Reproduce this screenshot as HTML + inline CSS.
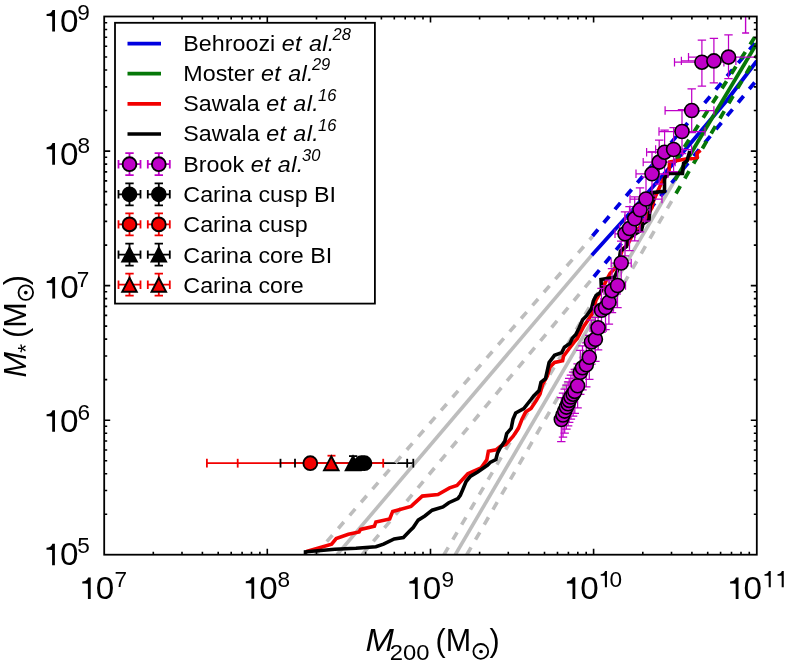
<!DOCTYPE html>
<html><head><meta charset="utf-8"><style>
html,body{margin:0;padding:0;background:#fff;}
svg{display:block;will-change:transform;filter:blur(0.35px);}
text{font-family:"Liberation Sans",sans-serif;fill:#000;}
</style></head><body>
<svg width="786" height="666" viewBox="0 0 786 666">
<defs><clipPath id="plotclip"><rect x="104.2" y="16.5" width="652.6" height="538.2"/></clipPath></defs>
<rect width="786" height="666" fill="#fff"/>
<path d="M280.5,463.2 H413.3" stroke="#000" stroke-width="1.8"/>
<path d="M206.9,463.2 H383.2" stroke="#f20000" stroke-width="1.8"/>
<g clip-path="url(#plotclip)">
<path d="M315.4,554.7 L592.5,236.5" fill="none" stroke="#bdbdbd" stroke-width="3.6" stroke-dasharray="8.5 8.9" stroke-linejoin="miter" />
<path d="M337.1,554.7 L591.8,255.2" fill="none" stroke="#bdbdbd" stroke-width="3.6" stroke-linejoin="miter" />
<path d="M362.2,554.7 L593.9,276.7" fill="none" stroke="#bdbdbd" stroke-width="3.6" stroke-dasharray="8.5 8.9" stroke-linejoin="miter" />
<path d="M444.0,554.7 L675.0,161.6" fill="none" stroke="#bdbdbd" stroke-width="3.6" stroke-dasharray="8.5 8.9" stroke-linejoin="miter" />
<path d="M455.3,554.7 L675.0,180.0" fill="none" stroke="#bdbdbd" stroke-width="3.6" stroke-linejoin="miter" />
<path d="M466.8,554.7 L676.0,193.5" fill="none" stroke="#bdbdbd" stroke-width="3.6" stroke-dasharray="8.5 8.9" stroke-linejoin="miter" />
<path d="M592.5,236.0 L756.8,41.0" fill="none" stroke="#0000e0" stroke-width="3.8" stroke-dasharray="8.5 8.9" stroke-linejoin="miter" />
<path d="M591.8,255.2 L629.5,213.5 L680.0,155.7 L727.2,100.0 L756.8,61.0" fill="none" stroke="#0000e0" stroke-width="3.8" stroke-linejoin="miter" />
<path d="M593.9,276.7 L756.8,80.0" fill="none" stroke="#0000e0" stroke-width="3.8" stroke-dasharray="8.5 8.9" stroke-linejoin="miter" />
<path d="M675.0,161.6 L756.8,34.0" fill="none" stroke="#067808" stroke-width="3.8" stroke-dasharray="8.5 8.9" stroke-linejoin="miter" />
<path d="M675.0,180.0 L756.8,43.5" fill="none" stroke="#067808" stroke-width="3.8" stroke-linejoin="miter" />
<path d="M676.0,193.5 L756.8,55.5" fill="none" stroke="#067808" stroke-width="3.8" stroke-dasharray="8.5 8.9" stroke-linejoin="miter" />
<path d="M306.5,551.5 L331.6,544.2 L336.2,538.5 L348.4,534.3 L359.1,532.0 L360.6,529.4 L374.4,526.3 L375.9,522.0 L389.7,519.0 L392.7,511.4 L411.0,506.5 L413.2,504.4 L422.3,496.1 L438.0,494.5 L449.6,487.9 L457.0,485.4 L467.8,473.8 L481.0,468.0 L486.8,459.8 L488.4,451.2 L495.9,449.8 L500.4,446.3 L505.8,444.5 L513.0,436.4 L518.4,428.3 L522.0,419.3 L525.6,412.1 L531.0,408.5 L536.4,400.4 L540.0,394.1 L542.7,384.1 L547.3,376.0 L550.0,367.0 L554.5,362.5 L562.6,360.7 L563.5,356.2 L568.9,349.0 L574.3,341.8 L577.2,338.6 L584.0,326.0 L592.0,314.3 L596.0,300.0 L602.0,290.0 L606.0,281.0 L610.0,273.5 L618.0,265.0 L622.0,250.0 L628.0,244.0 L632.0,236.0 L640.0,227.0 L646.0,218.0 L652.0,207.5 L653.8,199.9 L662.8,180.1 L669.0,172.3 L669.6,162.1 L687.0,158.8 L691.5,158.8 L697.1,157.6 L697.1,153.1 L700.5,150.3" fill="none" stroke="#f20000" stroke-width="3.6" stroke-linejoin="miter" />
<path d="M305.5,554.2 L305.5,551.8 L318.0,550.8 L334.7,549.2 L356.0,548.3 L375.9,546.8 L383.5,544.2 L394.2,538.9 L403.4,537.6 L409.9,530.8 L413.2,527.5 L418.2,520.1 L424.8,516.0 L432.2,510.2 L443.0,506.9 L448.8,502.7 L457.9,498.6 L460.3,495.3 L462.8,489.5 L466.1,481.5 L470.2,476.5 L477.7,472.0 L487.6,465.0 L490.1,462.5 L495.9,459.5 L497.5,453.1 L500.0,448.2 L504.9,440.9 L506.7,433.7 L511.2,428.3 L513.0,419.3 L515.7,413.0 L523.8,408.5 L531.0,399.5 L533.7,395.9 L539.1,390.5 L541.0,382.3 L545.5,378.7 L547.3,370.6 L549.1,362.5 L554.5,355.3 L561.7,352.6 L564.4,347.2 L569.8,343.6 L572.5,338.0 L575.8,334.6 L579.2,327.8 L582.6,319.7 L586.6,315.7 L591.4,308.9 L593.4,300.8 L596.1,295.4 L600.1,292.7 L601.5,290.0 L601.0,279.5 L614.5,277.2 L617.5,270.5 L620.5,251.0 L626.5,246.5 L627.2,239.0 L641.5,230.0 L643.0,224.0 L649.0,219.5 L650.5,204.5 L653.5,200.0 L652.0,192.7 L664.5,191.4 L664.5,177.9 L669.0,173.4 L682.5,173.4 L683.6,163.3 L687.0,161.0 L689.8,150.9" fill="none" stroke="#000" stroke-width="3.6" stroke-linejoin="miter" />
</g>
<g clip-path="url(#plotclip)">
<path d="M561.3,397.5 V441.5 M557.1,397.5 h8.4 M557.1,441.5 h8.4" stroke="#bf00c8" stroke-width="1.25" fill="none"/>
<path d="M563.0,393.0 V437.0 M558.8,393.0 h8.4 M558.8,437.0 h8.4" stroke="#bf00c8" stroke-width="1.25" fill="none"/>
<path d="M564.7,389.1 V433.1 M560.5,389.1 h8.4 M560.5,433.1 h8.4" stroke="#bf00c8" stroke-width="1.25" fill="none"/>
<path d="M566.4,385.1 V429.1 M562.2,385.1 h8.4 M562.2,429.1 h8.4" stroke="#bf00c8" stroke-width="1.25" fill="none"/>
<path d="M568.1,381.8 V425.8 M563.9,381.8 h8.4 M563.9,425.8 h8.4" stroke="#bf00c8" stroke-width="1.25" fill="none"/>
<path d="M569.2,378.4 V422.4 M565.0,378.4 h8.4 M565.0,422.4 h8.4" stroke="#bf00c8" stroke-width="1.25" fill="none"/>
<path d="M570.9,375.0 V419.0 M566.7,375.0 h8.4 M566.7,419.0 h8.4" stroke="#bf00c8" stroke-width="1.25" fill="none"/>
<path d="M573.1,372.2 V416.2 M568.9,372.2 h8.4 M568.9,416.2 h8.4" stroke="#bf00c8" stroke-width="1.25" fill="none"/>
<path d="M574.8,369.4 V413.4 M570.6,369.4 h8.4 M570.6,413.4 h8.4" stroke="#bf00c8" stroke-width="1.25" fill="none"/>
<path d="M577.6,363.8 V407.8 M573.4,363.8 h8.4 M573.4,407.8 h8.4" stroke="#bf00c8" stroke-width="1.25" fill="none"/>
<path d="M580.3,350.3 V394.3 M576.1,350.3 h8.4 M576.1,394.3 h8.4" stroke="#bf00c8" stroke-width="1.25" fill="none"/>
<path d="M582.5,345.8 V389.8 M578.3,345.8 h8.4 M578.3,389.8 h8.4" stroke="#bf00c8" stroke-width="1.25" fill="none"/>
<path d="M586.3,342.8 V386.8 M582.1,342.8 h8.4 M582.1,386.8 h8.4" stroke="#bf00c8" stroke-width="1.25" fill="none"/>
<path d="M589.3,335.3 V379.3 M585.1,335.3 h8.4 M585.1,379.3 h8.4" stroke="#bf00c8" stroke-width="1.25" fill="none"/>
<path d="M591.4,320.0 V364.0 M587.2,320.0 h8.4 M587.2,364.0 h8.4" stroke="#bf00c8" stroke-width="1.25" fill="none"/>
<path d="M595.4,317.3 V361.3 M591.2,317.3 h8.4 M591.2,361.3 h8.4" stroke="#bf00c8" stroke-width="1.25" fill="none"/>
<path d="M598.1,305.8 V349.8 M590.1,327.8 H606.1 M590.1,323.6 v8.4 M606.1,323.6 v8.4 M593.9,305.8 h8.4 M593.9,349.8 h8.4" stroke="#bf00c8" stroke-width="1.25" fill="none"/>
<path d="M601.5,288.3 V332.3 M593.5,310.3 H609.5 M593.5,306.1 v8.4 M609.5,306.1 v8.4 M597.3,288.3 h8.4 M597.3,332.3 h8.4" stroke="#bf00c8" stroke-width="1.25" fill="none"/>
<path d="M605.5,285.6 V329.6 M597.5,307.6 H613.5 M597.5,303.4 v8.4 M613.5,303.4 v8.4 M601.3,285.6 h8.4 M601.3,329.6 h8.4" stroke="#bf00c8" stroke-width="1.25" fill="none"/>
<path d="M608.9,280.2 V324.2 M600.9,302.2 H616.9 M600.9,298.0 v8.4 M616.9,298.0 v8.4 M604.7,280.2 h8.4 M604.7,324.2 h8.4" stroke="#bf00c8" stroke-width="1.25" fill="none"/>
<path d="M612.0,268.7 V312.7 M604.0,290.7 H620.0 M604.0,286.5 v8.4 M620.0,286.5 v8.4 M607.8,268.7 h8.4 M607.8,312.7 h8.4" stroke="#bf00c8" stroke-width="1.25" fill="none"/>
<path d="M617.5,263.5 V307.5 M609.5,285.5 H625.5 M609.5,281.3 v8.4 M625.5,281.3 v8.4 M613.3,263.5 h8.4 M613.3,307.5 h8.4" stroke="#bf00c8" stroke-width="1.25" fill="none"/>
<path d="M621.2,241.0 V285.0 M611.2,263.0 H631.2 M611.2,258.8 v8.4 M631.2,258.8 v8.4 M617.0,241.0 h8.4 M617.0,285.0 h8.4" stroke="#bf00c8" stroke-width="1.25" fill="none"/>
<path d="M625.0,211.8 V255.8 M615.0,233.8 H635.0 M615.0,229.6 v8.4 M635.0,229.6 v8.4 M620.8,211.8 h8.4 M620.8,255.8 h8.4" stroke="#bf00c8" stroke-width="1.25" fill="none"/>
<path d="M629.5,206.5 V250.5 M619.5,228.5 H639.5 M619.5,224.3 v8.4 M639.5,224.3 v8.4 M625.3,206.5 h8.4 M625.3,250.5 h8.4" stroke="#bf00c8" stroke-width="1.25" fill="none"/>
<path d="M634.7,196.8 V240.8 M624.7,218.8 H644.7 M624.7,214.6 v8.4 M644.7,214.6 v8.4 M630.5,196.8 h8.4 M630.5,240.8 h8.4" stroke="#bf00c8" stroke-width="1.25" fill="none"/>
<path d="M640.0,187.8 V231.8 M630.0,209.8 H650.0 M630.0,205.6 v8.4 M650.0,205.6 v8.4 M635.8,187.8 h8.4 M635.8,231.8 h8.4" stroke="#bf00c8" stroke-width="1.25" fill="none"/>
<path d="M646.0,177.0 V221.0 M630.0,199.0 H662.0 M630.0,194.8 v8.4 M662.0,194.8 v8.4 M641.8,177.0 h8.4 M641.8,221.0 h8.4" stroke="#bf00c8" stroke-width="1.25" fill="none"/>
<path d="M652.0,151.8 V195.8 M636.0,173.8 H668.0 M636.0,169.6 v8.4 M668.0,169.6 v8.4 M647.8,151.8 h8.4 M647.8,195.8 h8.4" stroke="#bf00c8" stroke-width="1.25" fill="none"/>
<path d="M659.2,140.1 V184.1 M643.2,162.1 H675.2 M643.2,157.9 v8.4 M675.2,157.9 v8.4 M655.0,140.1 h8.4 M655.0,184.1 h8.4" stroke="#bf00c8" stroke-width="1.25" fill="none"/>
<path d="M664.6,130.2 V174.2 M646.6,152.2 H682.6 M646.6,148.0 v8.4 M682.6,148.0 v8.4 M660.4,130.2 h8.4 M660.4,174.2 h8.4" stroke="#bf00c8" stroke-width="1.25" fill="none"/>
<path d="M673.6,127.5 V171.5 M655.6,149.5 H691.6 M655.6,145.3 v8.4 M691.6,145.3 v8.4 M669.4,127.5 h8.4 M669.4,171.5 h8.4" stroke="#bf00c8" stroke-width="1.25" fill="none"/>
<path d="M682.0,109.5 V153.5 M659.0,131.5 H705.0 M659.0,127.3 v8.4 M705.0,127.3 v8.4 M677.8,109.5 h8.4 M677.8,153.5 h8.4" stroke="#bf00c8" stroke-width="1.25" fill="none"/>
<path d="M691.7,88.8 V132.5 M665.1,110.5 H713.9 M665.1,106.3 v8.4 M713.9,106.3 v8.4 M687.5,88.8 h8.4 M687.5,132.5 h8.4" stroke="#bf00c8" stroke-width="1.25" fill="none"/>
<path d="M701.9,40.0 V86.2 M674.5,62.2 H723.9 M674.5,58.0 v8.4 M723.9,58.0 v8.4 M697.7,40.0 h8.4 M697.7,86.2 h8.4" stroke="#bf00c8" stroke-width="1.25" fill="none"/>
<path d="M713.9,38.3 V82.8 M681.4,60.9 H735.9 M681.4,56.7 v8.4 M735.9,56.7 v8.4 M709.7,38.3 h8.4 M709.7,82.8 h8.4" stroke="#bf00c8" stroke-width="1.25" fill="none"/>
<path d="M728.5,34.8 V78.5 M688.5,57.1 H768.5 M688.5,52.9 v8.4 M768.5,52.9 v8.4 M724.3,34.8 h8.4 M724.3,78.5 h8.4" stroke="#bf00c8" stroke-width="1.25" fill="none"/>
<path d="M745.6,-10.0 V33.0 M742.1,-10.0 h7.0 M742.1,33.0 h7.0" stroke="#bf00c8" stroke-width="1.4" fill="none"/>
<circle cx="561.3" cy="419.5" r="7.0" fill="#bf00c8" stroke="#000" stroke-width="1.6"/>
<circle cx="563.0" cy="415.0" r="7.0" fill="#bf00c8" stroke="#000" stroke-width="1.6"/>
<circle cx="564.7" cy="411.1" r="7.0" fill="#bf00c8" stroke="#000" stroke-width="1.6"/>
<circle cx="566.4" cy="407.1" r="7.0" fill="#bf00c8" stroke="#000" stroke-width="1.6"/>
<circle cx="568.1" cy="403.8" r="7.0" fill="#bf00c8" stroke="#000" stroke-width="1.6"/>
<circle cx="569.2" cy="400.4" r="7.0" fill="#bf00c8" stroke="#000" stroke-width="1.6"/>
<circle cx="570.9" cy="397.0" r="7.0" fill="#bf00c8" stroke="#000" stroke-width="1.6"/>
<circle cx="573.1" cy="394.2" r="7.0" fill="#bf00c8" stroke="#000" stroke-width="1.6"/>
<circle cx="574.8" cy="391.4" r="7.0" fill="#bf00c8" stroke="#000" stroke-width="1.6"/>
<circle cx="577.6" cy="385.8" r="7.0" fill="#bf00c8" stroke="#000" stroke-width="1.6"/>
<circle cx="580.3" cy="372.3" r="7.0" fill="#bf00c8" stroke="#000" stroke-width="1.6"/>
<circle cx="582.5" cy="367.8" r="7.0" fill="#bf00c8" stroke="#000" stroke-width="1.6"/>
<circle cx="586.3" cy="364.8" r="7.0" fill="#bf00c8" stroke="#000" stroke-width="1.6"/>
<circle cx="589.3" cy="357.3" r="7.0" fill="#bf00c8" stroke="#000" stroke-width="1.6"/>
<circle cx="591.4" cy="342.0" r="7.0" fill="#bf00c8" stroke="#000" stroke-width="1.6"/>
<circle cx="595.4" cy="339.3" r="7.0" fill="#bf00c8" stroke="#000" stroke-width="1.6"/>
<circle cx="598.1" cy="327.8" r="7.0" fill="#bf00c8" stroke="#000" stroke-width="1.6"/>
<circle cx="601.5" cy="310.3" r="7.0" fill="#bf00c8" stroke="#000" stroke-width="1.6"/>
<circle cx="605.5" cy="307.6" r="7.0" fill="#bf00c8" stroke="#000" stroke-width="1.6"/>
<circle cx="608.9" cy="302.2" r="7.0" fill="#bf00c8" stroke="#000" stroke-width="1.6"/>
<circle cx="612.0" cy="290.7" r="7.0" fill="#bf00c8" stroke="#000" stroke-width="1.6"/>
<circle cx="617.5" cy="285.5" r="7.0" fill="#bf00c8" stroke="#000" stroke-width="1.6"/>
<circle cx="621.2" cy="263.0" r="7.0" fill="#bf00c8" stroke="#000" stroke-width="1.6"/>
<circle cx="625.0" cy="233.8" r="7.0" fill="#bf00c8" stroke="#000" stroke-width="1.6"/>
<circle cx="629.5" cy="228.5" r="7.0" fill="#bf00c8" stroke="#000" stroke-width="1.6"/>
<circle cx="634.7" cy="218.8" r="7.0" fill="#bf00c8" stroke="#000" stroke-width="1.6"/>
<circle cx="640.0" cy="209.8" r="7.0" fill="#bf00c8" stroke="#000" stroke-width="1.6"/>
<circle cx="646.0" cy="199.0" r="7.0" fill="#bf00c8" stroke="#000" stroke-width="1.6"/>
<circle cx="652.0" cy="173.8" r="7.0" fill="#bf00c8" stroke="#000" stroke-width="1.6"/>
<circle cx="659.2" cy="162.1" r="7.0" fill="#bf00c8" stroke="#000" stroke-width="1.6"/>
<circle cx="664.6" cy="152.2" r="7.0" fill="#bf00c8" stroke="#000" stroke-width="1.6"/>
<circle cx="673.6" cy="149.5" r="7.0" fill="#bf00c8" stroke="#000" stroke-width="1.6"/>
<circle cx="682.0" cy="131.5" r="7.0" fill="#bf00c8" stroke="#000" stroke-width="1.6"/>
<circle cx="691.7" cy="110.5" r="7.0" fill="#bf00c8" stroke="#000" stroke-width="1.6"/>
<circle cx="701.9" cy="62.2" r="7.0" fill="#bf00c8" stroke="#000" stroke-width="1.6"/>
<circle cx="713.9" cy="60.9" r="7.0" fill="#bf00c8" stroke="#000" stroke-width="1.6"/>
<circle cx="728.5" cy="57.1" r="7.0" fill="#bf00c8" stroke="#000" stroke-width="1.6"/>
</g>
<path d="M206.9,458.8 v8.8" stroke="#f20000" stroke-width="1.8"/>
<path d="M237.7,458.8 v8.8" stroke="#f20000" stroke-width="1.8"/>
<path d="M383.2,458.8 v8.8" stroke="#f20000" stroke-width="1.8"/>
<path d="M280.5,458.8 v8.8" stroke="#000" stroke-width="1.8"/>
<path d="M295,458.8 v8.8" stroke="#000" stroke-width="1.8"/>
<path d="M407.2,458.8 v8.8" stroke="#000" stroke-width="1.8"/>
<path d="M413.3,458.8 v8.8" stroke="#000" stroke-width="1.8"/>
<path d="M327.5,455.7 h8" stroke="#f20000" stroke-width="1.8"/>
<path d="M349,456.1 h8.3" stroke="#000" stroke-width="1.8"/>
<circle cx="310.3" cy="463.2" r="6.9" fill="#f20000" stroke="#000" stroke-width="1.9"/>
<path d="M331.3,456.2 L338.6,470.2 L324.0,470.2 Z" fill="#f20000" stroke="#000" stroke-width="1.9" stroke-linejoin="miter"/>
<path d="M353.0,456.2 L360.3,470.2 L345.7,470.2 Z" fill="#000" stroke="#000" stroke-width="1.9" stroke-linejoin="miter"/>
<circle cx="361.5" cy="463.2" r="6.9" fill="#000" stroke="#000" stroke-width="1.9"/>
<circle cx="364.5" cy="463.2" r="6.9" fill="#000" stroke="#000" stroke-width="1.9"/>
<rect x="115" y="22.8" width="259.9" height="280.8" fill="#fff" stroke="#000" stroke-width="1.8"/>
<path d="M127.5,43.6 H161" stroke="#0000e0" stroke-width="3.7"/>
<path d="M127.5,73.7 H161" stroke="#067808" stroke-width="3.7"/>
<path d="M127.5,103.9 H161" stroke="#f20000" stroke-width="3.7"/>
<path d="M127.5,134.0 H161" stroke="#000" stroke-width="3.7"/>
<path d="M129.5,153.2 V175.2 M118.5,164.2 H140.5 M118.5,160.0 v8.4 M140.5,160.0 v8.4 M125.3,153.2 h8.4 M125.3,175.2 h8.4" stroke="#bf00c8" stroke-width="1.8" fill="none"/>
<circle cx="129.5" cy="164.2" r="6.9" fill="#bf00c8" stroke="#000" stroke-width="1.9"/>
<path d="M129.5,183.3 V205.3 M118.5,194.3 H140.5 M118.5,190.1 v8.4 M140.5,190.1 v8.4 M125.3,183.3 h8.4 M125.3,205.3 h8.4" stroke="#000" stroke-width="1.8" fill="none"/>
<circle cx="129.5" cy="194.3" r="6.9" fill="#000" stroke="#000" stroke-width="1.9"/>
<path d="M129.5,213.4 V235.4 M118.5,224.4 H140.5 M118.5,220.2 v8.4 M140.5,220.2 v8.4 M125.3,213.4 h8.4 M125.3,235.4 h8.4" stroke="#f20000" stroke-width="1.8" fill="none"/>
<circle cx="129.5" cy="224.4" r="6.9" fill="#f20000" stroke="#000" stroke-width="1.9"/>
<path d="M129.5,243.6 V265.6 M118.5,254.6 H140.5 M118.5,250.4 v8.4 M140.5,250.4 v8.4 M125.3,243.6 h8.4 M125.3,265.6 h8.4" stroke="#000" stroke-width="1.8" fill="none"/>
<path d="M129.5,247.6 L136.8,261.6 L122.2,261.6 Z" fill="#000" stroke="#000" stroke-width="1.9" stroke-linejoin="miter"/>
<path d="M129.5,273.7 V295.7 M118.5,284.7 H140.5 M118.5,280.5 v8.4 M140.5,280.5 v8.4 M125.3,273.7 h8.4 M125.3,295.7 h8.4" stroke="#f20000" stroke-width="1.8" fill="none"/>
<path d="M129.5,277.7 L136.8,291.7 L122.2,291.7 Z" fill="#f20000" stroke="#000" stroke-width="1.9" stroke-linejoin="miter"/>
<path d="M158.8,153.2 V175.2 M147.8,164.2 H169.8 M147.8,160.0 v8.4 M169.8,160.0 v8.4 M154.6,153.2 h8.4 M154.6,175.2 h8.4" stroke="#bf00c8" stroke-width="1.8" fill="none"/>
<circle cx="158.8" cy="164.2" r="6.9" fill="#bf00c8" stroke="#000" stroke-width="1.9"/>
<path d="M158.8,183.3 V205.3 M147.8,194.3 H169.8 M147.8,190.1 v8.4 M169.8,190.1 v8.4 M154.6,183.3 h8.4 M154.6,205.3 h8.4" stroke="#000" stroke-width="1.8" fill="none"/>
<circle cx="158.8" cy="194.3" r="6.9" fill="#000" stroke="#000" stroke-width="1.9"/>
<path d="M158.8,213.4 V235.4 M147.8,224.4 H169.8 M147.8,220.2 v8.4 M169.8,220.2 v8.4 M154.6,213.4 h8.4 M154.6,235.4 h8.4" stroke="#f20000" stroke-width="1.8" fill="none"/>
<circle cx="158.8" cy="224.4" r="6.9" fill="#f20000" stroke="#000" stroke-width="1.9"/>
<path d="M158.8,243.6 V265.6 M147.8,254.6 H169.8 M147.8,250.4 v8.4 M169.8,250.4 v8.4 M154.6,243.6 h8.4 M154.6,265.6 h8.4" stroke="#000" stroke-width="1.8" fill="none"/>
<path d="M158.8,247.6 L166.1,261.6 L151.5,261.6 Z" fill="#000" stroke="#000" stroke-width="1.9" stroke-linejoin="miter"/>
<path d="M158.8,273.7 V295.7 M147.8,284.7 H169.8 M147.8,280.5 v8.4 M169.8,280.5 v8.4 M154.6,273.7 h8.4 M154.6,295.7 h8.4" stroke="#f20000" stroke-width="1.8" fill="none"/>
<path d="M158.8,277.7 L166.1,291.7 L151.5,291.7 Z" fill="#f20000" stroke="#000" stroke-width="1.9" stroke-linejoin="miter"/>
<path d="M153.3,554.7 L153.3,551.7 M153.3,16.5 L153.3,19.5 M182.0,554.7 L182.0,551.7 M182.0,16.5 L182.0,19.5 M202.4,554.7 L202.4,551.7 M202.4,16.5 L202.4,19.5 M218.2,554.7 L218.2,551.7 M218.2,16.5 L218.2,19.5 M231.2,554.7 L231.2,551.7 M231.2,16.5 L231.2,19.5 M242.1,554.7 L242.1,551.7 M242.1,16.5 L242.1,19.5 M251.5,554.7 L251.5,551.7 M251.5,16.5 L251.5,19.5 M259.9,554.7 L259.9,551.7 M259.9,16.5 L259.9,19.5 M267.3,554.7 L267.3,548.7 M267.3,16.5 L267.3,22.5 M316.5,554.7 L316.5,551.7 M316.5,16.5 L316.5,19.5 M345.2,554.7 L345.2,551.7 M345.2,16.5 L345.2,19.5 M365.6,554.7 L365.6,551.7 M365.6,16.5 L365.6,19.5 M381.4,554.7 L381.4,551.7 M381.4,16.5 L381.4,19.5 M394.3,554.7 L394.3,551.7 M394.3,16.5 L394.3,19.5 M405.2,554.7 L405.2,551.7 M405.2,16.5 L405.2,19.5 M414.7,554.7 L414.7,551.7 M414.7,16.5 L414.7,19.5 M423.0,554.7 L423.0,551.7 M423.0,16.5 L423.0,19.5 M430.5,554.7 L430.5,548.7 M430.5,16.5 L430.5,22.5 M479.6,554.7 L479.6,551.7 M479.6,16.5 L479.6,19.5 M508.3,554.7 L508.3,551.7 M508.3,16.5 L508.3,19.5 M528.7,554.7 L528.7,551.7 M528.7,16.5 L528.7,19.5 M544.5,554.7 L544.5,551.7 M544.5,16.5 L544.5,19.5 M557.5,554.7 L557.5,551.7 M557.5,16.5 L557.5,19.5 M568.4,554.7 L568.4,551.7 M568.4,16.5 L568.4,19.5 M577.8,554.7 L577.8,551.7 M577.8,16.5 L577.8,19.5 M586.2,554.7 L586.2,551.7 M586.2,16.5 L586.2,19.5 M593.6,554.7 L593.6,548.7 M593.6,16.5 L593.6,22.5 M642.8,554.7 L642.8,551.7 M642.8,16.5 L642.8,19.5 M671.5,554.7 L671.5,551.7 M671.5,16.5 L671.5,19.5 M691.9,554.7 L691.9,551.7 M691.9,16.5 L691.9,19.5 M707.7,554.7 L707.7,551.7 M707.7,16.5 L707.7,19.5 M720.6,554.7 L720.6,551.7 M720.6,16.5 L720.6,19.5 M731.5,554.7 L731.5,551.7 M731.5,16.5 L731.5,19.5 M741.0,554.7 L741.0,551.7 M741.0,16.5 L741.0,19.5 M749.3,554.7 L749.3,551.7 M749.3,16.5 L749.3,19.5 M104.2,514.2 L107.2,514.2 M756.8,514.2 L753.8,514.2 M104.2,490.5 L107.2,490.5 M756.8,490.5 L753.8,490.5 M104.2,473.7 L107.2,473.7 M756.8,473.7 L753.8,473.7 M104.2,460.7 L107.2,460.7 M756.8,460.7 L753.8,460.7 M104.2,450.0 L107.2,450.0 M756.8,450.0 L753.8,450.0 M104.2,441.0 L107.2,441.0 M756.8,441.0 L753.8,441.0 M104.2,433.2 L107.2,433.2 M756.8,433.2 L753.8,433.2 M104.2,426.3 L107.2,426.3 M756.8,426.3 L753.8,426.3 M104.2,420.2 L110.2,420.2 M756.8,420.2 L750.8,420.2 M104.2,379.6 L107.2,379.6 M756.8,379.6 L753.8,379.6 M104.2,356.0 L107.2,356.0 M756.8,356.0 L753.8,356.0 M104.2,339.1 L107.2,339.1 M756.8,339.1 L753.8,339.1 M104.2,326.1 L107.2,326.1 M756.8,326.1 L753.8,326.1 M104.2,315.4 L107.2,315.4 M756.8,315.4 L753.8,315.4 M104.2,306.4 L107.2,306.4 M756.8,306.4 L753.8,306.4 M104.2,298.6 L107.2,298.6 M756.8,298.6 L753.8,298.6 M104.2,291.8 L107.2,291.8 M756.8,291.8 L753.8,291.8 M104.2,285.6 L110.2,285.6 M756.8,285.6 L750.8,285.6 M104.2,245.1 L107.2,245.1 M756.8,245.1 L753.8,245.1 M104.2,221.4 L107.2,221.4 M756.8,221.4 L753.8,221.4 M104.2,204.6 L107.2,204.6 M756.8,204.6 L753.8,204.6 M104.2,191.6 L107.2,191.6 M756.8,191.6 L753.8,191.6 M104.2,180.9 L107.2,180.9 M756.8,180.9 L753.8,180.9 M104.2,171.9 L107.2,171.9 M756.8,171.9 L753.8,171.9 M104.2,164.1 L107.2,164.1 M756.8,164.1 L753.8,164.1 M104.2,157.2 L107.2,157.2 M756.8,157.2 L753.8,157.2 M104.2,151.1 L110.2,151.1 M756.8,151.1 L750.8,151.1 M104.2,110.5 L107.2,110.5 M756.8,110.5 L753.8,110.5 M104.2,86.9 L107.2,86.9 M756.8,86.9 L753.8,86.9 M104.2,70.0 L107.2,70.0 M756.8,70.0 L753.8,70.0 M104.2,57.0 L107.2,57.0 M756.8,57.0 L753.8,57.0 M104.2,46.3 L107.2,46.3 M756.8,46.3 L753.8,46.3 M104.2,37.3 L107.2,37.3 M756.8,37.3 L753.8,37.3 M104.2,29.5 L107.2,29.5 M756.8,29.5 L753.8,29.5 M104.2,22.7 L107.2,22.7 M756.8,22.7 L753.8,22.7" stroke="#000" stroke-width="1.6" fill="none"/>
<rect x="104.2" y="16.5" width="652.6" height="538.2" fill="none" stroke="#000" stroke-width="1.8"/>
<text x="183.4" y="50.6" font-size="22.3" transform="translate(185,0) scale(1.045,1) translate(-185,0)">Behroozi <tspan font-style="italic" letter-spacing="0.4">et al.</tspan></text>
<text x="332.6" y="40.1" font-size="16.2" font-style="italic" transform="translate(333.0,0) scale(1.02,1) translate(-333.0,0)">28</text>
<text x="183.4" y="80.9" font-size="22.3" transform="translate(185,0) scale(1.045,1) translate(-185,0)">Moster <tspan font-style="italic" letter-spacing="0.4">et al.</tspan></text>
<text x="311.9" y="70.4" font-size="16.2" font-style="italic" transform="translate(312.3,0) scale(1.02,1) translate(-312.3,0)">29</text>
<text x="183.4" y="111.2" font-size="22.3" transform="translate(185,0) scale(1.045,1) translate(-185,0)">Sawala <tspan font-style="italic" letter-spacing="0.4">et al.</tspan></text>
<text x="318.1" y="100.7" font-size="16.2" font-style="italic" transform="translate(318.5,0) scale(1.02,1) translate(-318.5,0)">16</text>
<text x="183.4" y="141.5" font-size="22.3" transform="translate(185,0) scale(1.045,1) translate(-185,0)">Sawala <tspan font-style="italic" letter-spacing="0.4">et al.</tspan></text>
<text x="318.1" y="131.0" font-size="16.2" font-style="italic" transform="translate(318.5,0) scale(1.02,1) translate(-318.5,0)">16</text>
<text x="183.4" y="171.8" font-size="22.3" transform="translate(185,0) scale(1.045,1) translate(-185,0)">Brook <tspan font-style="italic" letter-spacing="0.4">et al.</tspan></text>
<text x="302.1" y="161.3" font-size="16.2" font-style="italic" transform="translate(302.5,0) scale(1.02,1) translate(-302.5,0)">30</text>
<text x="183.4" y="202.0" font-size="22.3" transform="translate(185,0) scale(1.045,1) translate(-185,0)">Carina cusp BI</text>
<text x="183.4" y="232.3" font-size="22.3" transform="translate(185,0) scale(1.045,1) translate(-185,0)">Carina cusp</text>
<text x="183.4" y="262.6" font-size="22.3" transform="translate(185,0) scale(1.045,1) translate(-185,0)">Carina core BI</text>
<text x="183.4" y="292.9" font-size="22.3" transform="translate(185,0) scale(1.045,1) translate(-185,0)">Carina core</text>
<path d="M55.00,10.00 L55.00,31.60 L52.20,31.60 L52.20,16.40 C51.00,16.20 48.70,16.10 46.60,16.10 L46.60,14.10 C49.20,14.00 51.40,13.20 52.50,10.00 Z" fill="#000"/>
<text x="61.45" y="31.6" font-size="30.5" transform="translate(77.10,0) scale(1.09,1) translate(-77.10,0)">0</text>
<text x="77.28" y="19.6" font-size="22.6">9</text>
<path d="M55.00,143.10 L55.00,164.70 L52.20,164.70 L52.20,149.50 C51.00,149.30 48.70,149.20 46.60,149.20 L46.60,147.20 C49.20,147.10 51.40,146.30 52.50,143.10 Z" fill="#000"/>
<text x="61.45" y="164.7" font-size="30.5" transform="translate(77.10,0) scale(1.09,1) translate(-77.10,0)">0</text>
<text x="77.48" y="153.1" font-size="22.6">8</text>
<path d="M55.10,276.90 L55.10,298.50 L52.30,298.50 L52.30,283.30 C51.10,283.10 48.80,283.00 46.70,283.00 L46.70,281.00 C49.30,280.90 51.50,280.10 52.60,276.90 Z" fill="#000"/>
<text x="61.55" y="298.5" font-size="30.5" transform="translate(77.20,0) scale(1.09,1) translate(-77.20,0)">0</text>
<text x="76.78" y="286.6" font-size="22.6">7</text>
<path d="M55.00,410.20 L55.00,431.80 L52.20,431.80 L52.20,416.60 C51.00,416.40 48.70,416.30 46.60,416.30 L46.60,414.30 C49.20,414.20 51.40,413.40 52.50,410.20 Z" fill="#000"/>
<text x="61.45" y="431.8" font-size="30.5" transform="translate(77.10,0) scale(1.09,1) translate(-77.10,0)">0</text>
<text x="77.38" y="419.7" font-size="22.6">6</text>
<path d="M54.90,543.70 L54.90,565.30 L52.10,565.30 L52.10,550.10 C50.90,549.90 48.60,549.80 46.50,549.80 L46.50,547.80 C49.10,547.70 51.30,546.90 52.40,543.70 Z" fill="#000"/>
<text x="61.35" y="565.3" font-size="30.5" transform="translate(77.00,0) scale(1.09,1) translate(-77.00,0)">0</text>
<text x="77.28" y="553.4" font-size="22.6">5</text>
<path d="M90.70,577.40 L90.70,599.00 L87.90,599.00 L87.90,583.80 C86.70,583.60 84.40,583.50 82.30,583.50 L82.30,581.50 C84.90,581.40 87.10,580.60 88.20,577.40 Z" fill="#000"/>
<text x="97.15" y="599.0" font-size="30.5" transform="translate(112.80,0) scale(1.09,1) translate(-112.80,0)">0</text>
<text x="114.58" y="587.2" font-size="22.6">7</text>
<path d="M254.20,577.20 L254.20,598.80 L251.40,598.80 L251.40,583.60 C250.20,583.40 247.90,583.30 245.80,583.30 L245.80,581.30 C248.40,581.20 250.60,580.40 251.70,577.20 Z" fill="#000"/>
<text x="260.65" y="598.8" font-size="30.5" transform="translate(276.30,0) scale(1.09,1) translate(-276.30,0)">0</text>
<text x="277.48" y="587.2" font-size="22.6">8</text>
<path d="M417.70,577.30 L417.70,598.90 L414.90,598.90 L414.90,583.70 C413.70,583.50 411.40,583.40 409.30,583.40 L409.30,581.40 C411.90,581.30 414.10,580.50 415.20,577.30 Z" fill="#000"/>
<text x="424.15" y="598.9" font-size="30.5" transform="translate(439.80,0) scale(1.09,1) translate(-439.80,0)">0</text>
<text x="441.58" y="587.2" font-size="22.6">9</text>
<path d="M575.30,577.30 L575.30,598.90 L572.50,598.90 L572.50,583.70 C571.30,583.50 569.00,583.40 566.90,583.40 L566.90,581.40 C569.50,581.30 571.70,580.50 572.80,577.30 Z" fill="#000"/>
<text x="581.75" y="598.9" font-size="30.5" transform="translate(597.40,0) scale(1.09,1) translate(-597.40,0)">0</text>
<path d="M606.96,571.10 L606.96,587.20 L604.87,587.20 L604.87,575.87 C603.98,575.72 602.27,575.65 600.70,575.65 L600.70,574.16 C602.64,574.08 604.28,573.49 605.10,571.10 Z" fill="#000"/>
<text x="609.38" y="587.2" font-size="22.6">0</text>
<path d="M738.50,577.40 L738.50,599.00 L735.70,599.00 L735.70,583.80 C734.50,583.60 732.20,583.50 730.10,583.50 L730.10,581.50 C732.70,581.40 734.90,580.60 736.00,577.40 Z" fill="#000"/>
<text x="744.95" y="599.0" font-size="30.5" transform="translate(760.60,0) scale(1.09,1) translate(-760.60,0)">0</text>
<path d="M770.76,571.10 L770.76,587.20 L768.67,587.20 L768.67,575.87 C767.78,575.72 766.07,575.65 764.50,575.65 L764.50,574.16 C766.44,574.08 768.08,573.49 768.90,571.10 Z" fill="#000"/>
<path d="M783.76,571.10 L783.76,587.20 L781.67,587.20 L781.67,575.87 C780.78,575.72 779.07,575.65 777.50,575.65 L777.50,574.16 C779.44,574.08 781.08,573.49 781.90,571.10 Z" fill="#000"/>
<text x="365.6" y="651.3" font-size="30.5" font-style="italic" transform="translate(367,0) scale(1.12,1) translate(-367,0)">M</text>
<text x="389.7" y="659.9" font-size="22.8" transform="translate(390.5,0) scale(1.045,1) translate(-390.5,0)">200</text>
<text x="435.6" y="651.3" font-size="30.5">(M</text>
<text x="489.6" y="651.3" font-size="30.5">)</text>
<circle cx="480.8" cy="651.4" r="7.4" fill="none" stroke="#000" stroke-width="1.8"/><circle cx="481.0" cy="651.5" r="1.85" fill="#000"/>
<g transform="rotate(-90)">
<text x="-377.4" y="26.1" font-size="30.5" font-style="italic">M</text>
<text x="-352.8" y="32.8" font-size="22.8">*</text>
<text x="-338.0" y="26.1" font-size="30.5">(M</text>
<text x="-285.3" y="26.1" font-size="30.5">)</text>
</g>
<circle cx="25.8" cy="292.6" r="7.3" fill="none" stroke="#000" stroke-width="1.8"/><circle cx="25.8" cy="292.6" r="1.85" fill="#000"/>
</svg>
</body></html>
